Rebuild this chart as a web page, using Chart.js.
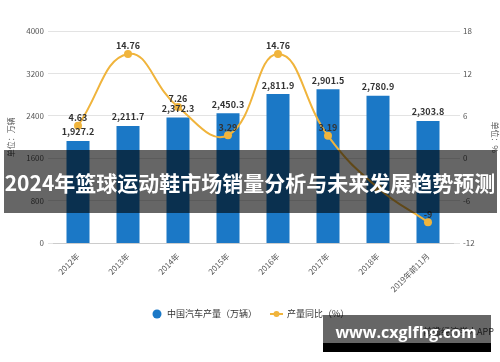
<!DOCTYPE html>
<html>
<head>
<meta charset="utf-8">
<script src="https://cdn.jsdelivr.net/npm/chart.js@4.4.0/dist/chart.umd.min.js"></script>
<style>
  html, body { margin: 0; padding: 0; background: #fff; }
  #wrap { width: 500px; height: 362px; position: relative; }
</style>
</head>
<body>
<div id="wrap"><canvas id="chart" width="500" height="362"></canvas></div>
<script>
// data
var years = ["2012年", "2013年", "2014年", "2015年", "2016年", "2017年", "2018年", "2019年前11月"];
var output = [1927.2, 2211.7, 2372.3, 2450.3, 2811.9, 2901.5, 2780.9, 2303.8];
var growth = [4.63, 14.76, 7.26, 3.29, 14.76, 3.19, -4.16, -9];
var leftTicks = [0, 800, 1600, 2400, 3200, 4000];
var rightTicks = [-12, -6, 0, 6, 12, 18];

var cjk = "'Noto Sans CJK SC', 'Noto Sans', sans-serif";
var blue = "#1b78c6";
var gold = "#f0b43c";

// value labels above bars and points
var labelPlugin = {
  id: "labels",
  afterDatasetsDraw: function (chart) {
    var ctx = chart.ctx;
    ctx.save();
    ctx.font = "bold 9px " + cjk;
    ctx.fillStyle = "#333";
    ctx.textAlign = "center";
    ctx.textBaseline = "middle";
    chart.getDatasetMeta(0).data.forEach(function (bar, i) {
      ctx.fillText(output[i].toLocaleString("en-US", { minimumFractionDigits: 1 }), bar.x, bar.y - 9);
    });
    chart.getDatasetMeta(1).data.forEach(function (pt, i) {
      if (i == 6) return;
      ctx.fillText(String(growth[i]), pt.x, pt.y - 8);
    });
    ctx.restore();
  }
};

// legend, banner and corner box
var overlayPlugin = {
  id: "overlay",
  afterDraw: function (chart) {
    var ctx = chart.ctx;
    ctx.save();
    // legend
    ctx.fillStyle = blue;
    ctx.beginPath();
    ctx.arc(157, 314, 4.5, 0, Math.PI * 2);
    ctx.fill();
    ctx.font = "9px " + cjk;
    ctx.fillStyle = "#333";
    ctx.textBaseline = "middle";
    ctx.fillText("中国汽车产量（万辆）", 167, 314);
    ctx.strokeStyle = gold;
    ctx.lineWidth = 2;
    ctx.beginPath();
    ctx.moveTo(270, 314);
    ctx.lineTo(283, 314);
    ctx.stroke();
    ctx.fillStyle = gold;
    ctx.beginPath();
    ctx.arc(276.5, 314, 3, 0, Math.PI * 2);
    ctx.fill();
    ctx.fillStyle = "#333";
    ctx.fillText("产量同比（%）", 287, 314);

    // small source text
    ctx.font = "9px " + cjk;
    ctx.fillStyle = "#444";
    ctx.fillText("前瞻经济学人APP", 423, 332);

    // banner
    ctx.fillStyle = "rgba(0,0,0,0.6)";
    ctx.fillRect(4, 150, 493, 63);
    ctx.fillStyle = "#fff";
    ctx.font = "bold 21px " + cjk;
    ctx.textAlign = "center";
    ctx.fillText("2024年篮球运动鞋市场销量分析与未来发展趋势预测", 250, 183);

    // corner box
    ctx.fillStyle = "rgba(0,0,0,0.6)";
    ctx.fillRect(323, 315, 168, 28);
    ctx.fillStyle = "#000";
    ctx.fillRect(323, 343, 168, 9);
    ctx.fillStyle = "#fff";
    ctx.font = "bold 16px 'Open Sans', sans-serif";
    ctx.fillText("www.cxglfhg.com", 406, 333);
    ctx.restore();
  }
};

new Chart(document.getElementById("chart"), {
  data: {
    labels: years,
    datasets: [
      {
        type: "bar",
        label: "中国汽车产量（万辆）",
        data: output,
        backgroundColor: blue,
        barPercentage: 0.46,
        categoryPercentage: 1,
        yAxisID: "y",
        order: 2
      },
      {
        type: "line",
        label: "产量同比（%）",
        data: growth,
        borderColor: gold,
        backgroundColor: gold,
        borderWidth: 2,
        pointRadius: 4,
        pointBackgroundColor: gold,
        pointBorderWidth: 0,
        tension: 0.45,
        yAxisID: "y1",
        order: 1
      }
    ]
  },
  options: {
    responsive: false,
    animation: false,
    layout: { padding: { top: 31, bottom: 68, left: 0, right: 0 } },
    plugins: {
      legend: { display: false },
      tooltip: { enabled: false }
    },
    scales: {
      x: {
        grid: { display: false, drawTicks: true },
        border: { color: "#ccc" },
        ticks: {
          color: "#555",
          font: { size: 8, family: cjk },
          maxRotation: 45,
          minRotation: 45,
          padding: 0
        }
      },
      y: {
        position: "left",
        min: 0,
        max: 4000,
        afterFit: function (s) { s.width = 53; },
        afterBuildTicks: function (s) { s.ticks = leftTicks.map(function (v) { return { value: v }; }); },
        grid: { color: "#e3e3e3", tickLength: 5 },
        border: { display: false },
        ticks: {
          color: "#555",
          font: { size: 8, family: cjk },
          padding: 4,
          callback: function (v) { return String(v); }
        },
        title: {
          display: true,
          text: "单位：万辆",
          color: "#555",
          font: { size: 8, family: cjk },
          padding: { top: 6, bottom: 0 }
        }
      },
      y1: {
        position: "right",
        min: -12,
        max: 18,
        afterFit: function (s) { s.width = 47; },
        afterBuildTicks: function (s) { s.ticks = rightTicks.map(function (v) { return { value: v }; }); },
        grid: { drawOnChartArea: false, color: "#e3e3e3", tickLength: 7 },
        border: { display: false },
        ticks: { color: "#555", font: { size: 8, family: cjk }, padding: 3 },
        title: {
          display: true,
          text: "单位：%",
          color: "#555",
          font: { size: 8, family: cjk },
          padding: { top: 0, bottom: 8 }
        }
      }
    }
  },
  plugins: [labelPlugin, overlayPlugin]
});
</script>
</body>
</html>
